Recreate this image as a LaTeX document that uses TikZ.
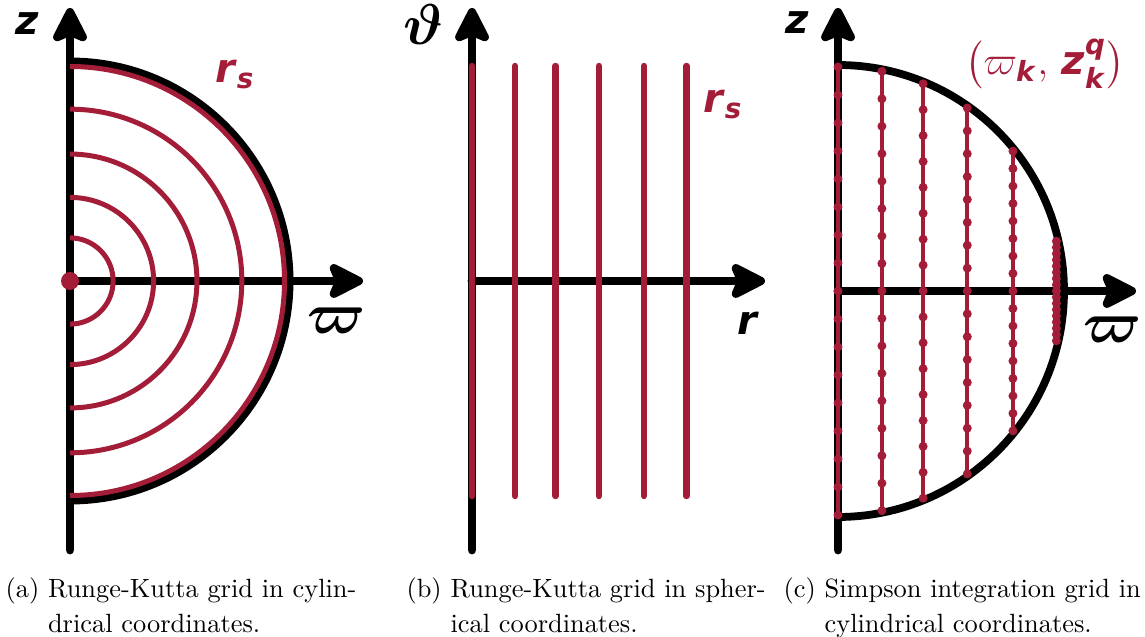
\documentclass[tikz,border=0pt]{standalone}
\usepackage{amsmath}
\usepackage{fontspec}
\setsansfont{DejaVu Sans}
\usetikzlibrary{arrows.meta}

\definecolor{crimson}{RGB}{163,29,57}
\newcommand{\sfl}[1]{\textsf{\bfseries\itshape #1}}

\begin{document}
\begin{tikzpicture}[x=0.36pt, y=-0.36pt]
  % Define styles
  \tikzset{
    axis/.style={line width=3.2pt, line cap=round, -{Stealth[length=15pt, width=15pt, inset=3pt, round]}},
    rim/.style={line width=2.5pt},
    rkarc/.style={crimson, line width=1.8pt},
    rkline/.style={crimson, line width=2.3pt, line cap=round},
    simpline/.style={crimson, line width=1.5pt},
    axlabel/.style={font=\Large},
    greeklabel/.style={font=\huge},
    redlabel/.style={text=crimson, font=\Large},
    caption/.style={anchor=north west, inner sep=0pt, font=\fontsize{9.5pt}{12.4pt}\selectfont}
  }
  \useasboundingbox (0,0) rectangle (1145,637);

  % (a) Runge-Kutta grid, cylindrical
  \coordinate (Oa) at (70,281);
  \coordinate (za-bot) at (70,550);
  \coordinate (za-top) at (70,8);
  \coordinate (wa-end) at (363,281);
  \draw[axis] (za-bot) -- (za-top);
  \draw[axis] (Oa) -- (wa-end);
  \draw[rim] (Oa) ++(0,-220) arc[start angle=-90, end angle=90, radius=220];
  \foreach \f in {0.196,0.38,0.577,0.781,0.975}
    \draw[rkarc] (Oa) ++(0,{-220*\f}) arc[start angle=-90, end angle=90, radius={220*\f}];
  \fill[crimson] (Oa) circle[radius=9];
  \node[axlabel] (za) at (27,24) {\sfl{z}};
  \node[greeklabel] (wa) at (337,321) {$\boldsymbol{\varpi}$};
  \node[redlabel] (rsa) at (235,75) {$\text{\sfl{r}}_{\text{\sfl{s}}}$};

  % (b) Runge-Kutta grid, spherical
  \coordinate (Ob) at (472,281);
  \coordinate (tb-bot) at (472,550);
  \coordinate (tb-top) at (472,8);
  \coordinate (rb-end) at (765,281);
  \draw[axis] (tb-bot) -- (tb-top);
  \draw[axis] (Ob) -- (rb-end);
  \foreach \f in {0,0.196,0.38,0.577,0.781,0.975}
    \draw[rkline] ({472+220*\f},66) -- ({472+220*\f},496);
  \node[greeklabel] (tb) at (423,25) {$\boldsymbol{\vartheta}$};
  \node[axlabel] (rb) at (748,323) {\sfl{r}};
  \node[redlabel] (rsb) at (723,105) {$\text{\sfl{r}}_{\text{\sfl{s}}}$};

  % (c) Simpson integration grid
  \coordinate (Oc) at (838,291);
  \coordinate (zc-bot) at (838,550);
  \coordinate (zc-top) at (838,8);
  \coordinate (wc-end) at (1136,291);
  \draw[axis] (zc-bot) -- (zc-top);
  \draw[axis] (Oc) -- (wc-end);
  \draw[line width=2.8pt] (Oc) ++(0,-226) arc[start angle=-90, end angle=90, radius=226];
  \foreach \f in {0,0.196,0.38,0.577,0.781,0.975} {
    \pgfmathsetmacro\d{224*\f}
    \pgfmathsetmacro\h{224*sqrt(1-\f*\f)}
    \draw[simpline] ({838+\d},{291-\h}) -- ({838+\d},{291+\h});
    \foreach \j in {0,...,16}
      \fill[crimson] ({838+\d},{291-\h+\h*\j/8}) circle[radius=4.5];
  }
  \node[axlabel] (zc) at (797,23) {\sfl{z}};
  \node[greeklabel] (wc) at (1112,330) {$\boldsymbol{\varpi}$};
  \node[redlabel] (pts) at (1045,64) {$\left(\varpi_{\text{\sfl{k}}},\,\text{\sfl{z}}^{\text{\sfl{q}}}_{\text{\sfl{k}}}\right)$};

  % Captions
  \node[caption] (capa) at (5,573) {\begin{tabular}{@{}l@{\space}l@{}}(a) & Runge-Kutta grid in cylin-\\ & drical coordinates.\end{tabular}};
  \node[caption] (capb) at (406,573) {\begin{tabular}{@{}l@{\space}l@{}}(b) & Runge-Kutta grid in spher-\\ & ical coordinates.\end{tabular}};
  \node[caption] (capc) at (783,573) {\begin{tabular}{@{}l@{\space}l@{}}(c) & Simpson integration grid in\\ & cylindrical coordinates.\end{tabular}};
\end{tikzpicture}
\end{document}
